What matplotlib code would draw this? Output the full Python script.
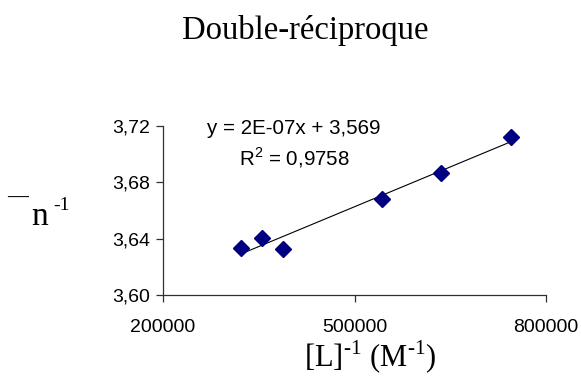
import numpy as np
import matplotlib
matplotlib.use('Agg')
import matplotlib.pyplot as plt
from matplotlib.ticker import FuncFormatter

plt.rcParams['mathtext.fontset'] = 'custom'
plt.rcParams['mathtext.rm'] = 'Liberation Serif'
plt.rcParams['mathtext.sf'] = 'Liberation Sans'

# data
inv_L = [322000, 354600, 388000, 542600, 635500, 744700]   # [L]^-1 (M^-1)
inv_n = [3.6336, 3.6403, 3.6327, 3.6682, 3.6864, 3.7124]   # n-bar^-1
x_ticks = [200000, 500000, 800000]
y_ticks = [3.60, 3.64, 3.68, 3.72]
title = 'Double-réciproque'
eq_text = 'y = 2E-07x + 3,569'
r2_text = r'R$^{\mathsf{2}}$ = 0,9758'

serif = 'Liberation Serif'
sans = 'Liberation Sans'

fig = plt.figure(figsize=(5.81, 3.78), dpi=100)
ax = fig.add_axes([163 / 581, 1 - 295 / 378, 383 / 581, 169 / 378])

# linear trendline, from the smallest to the largest x
coef = np.polyfit(inv_L, inv_n, 1)
xl = np.array([min(inv_L), max(inv_L)])
ax.plot(xl, np.polyval(coef, xl), color='black', lw=0.8, zorder=2)

ax.plot(inv_L, inv_n, linestyle='none', marker='D', markersize=8,
        color='#000080', zorder=3, clip_on=False)

ax.set_xlim(200000, 800000)
ax.set_ylim(3.60, 3.72)
ax.set_xticks(x_ticks)
ax.set_yticks(y_ticks)
ax.xaxis.set_major_formatter(FuncFormatter(lambda v, p: f'{v:.0f}'))
ax.yaxis.set_major_formatter(FuncFormatter(lambda v, p: f'{v:.2f}'.replace('.', ',')))
for s in ['top', 'right']:
    ax.spines[s].set_visible(False)
for s in ['left', 'bottom']:
    ax.spines[s].set_color('#303030')
    ax.spines[s].set_linewidth(0.9)
ax.tick_params(direction='out', length=5, width=0.9, color='#303030',
               labelsize=14, pad=4)
for lbl in ax.get_xticklabels() + ax.get_yticklabels():
    lbl.set_fontfamily(sans)
ax.tick_params(axis='x', pad=12)

ax.text(0.342, 0.985, eq_text, transform=ax.transAxes, ha='center', va='center',
        fontsize=14.8, family=sans)
ax.text(0.342, 0.81, r2_text, transform=ax.transAxes, ha='center', va='center',
        fontsize=14.8, family=sans)

fig.text(305 / 581, 1 - 30 / 378, title, ha='center', va='center',
         fontsize=23.5, family=serif)

# x label
fig.text(370 / 581, 1 - 357 / 378, r'[L]$^{\text{-1}}$ (M$^{\text{-1}}$)',
         ha='center', va='center', fontsize=22, family=serif)

# y label: n with an overbar, to the power -1
fig.text(18 / 581, 1 - 198 / 378, '\u2014', ha='center', va='center',
         fontsize=15, family=serif, fontweight='bold')
fig.text(40 / 581, 1 - 225 / 378, 'n', ha='center', va='baseline',
         fontsize=24, family=serif)
fig.text(62 / 581, 1 - 210 / 378, '-1', ha='center', va='baseline',
         fontsize=14, family=serif)

fig.savefig('out.png', dpi=100)
